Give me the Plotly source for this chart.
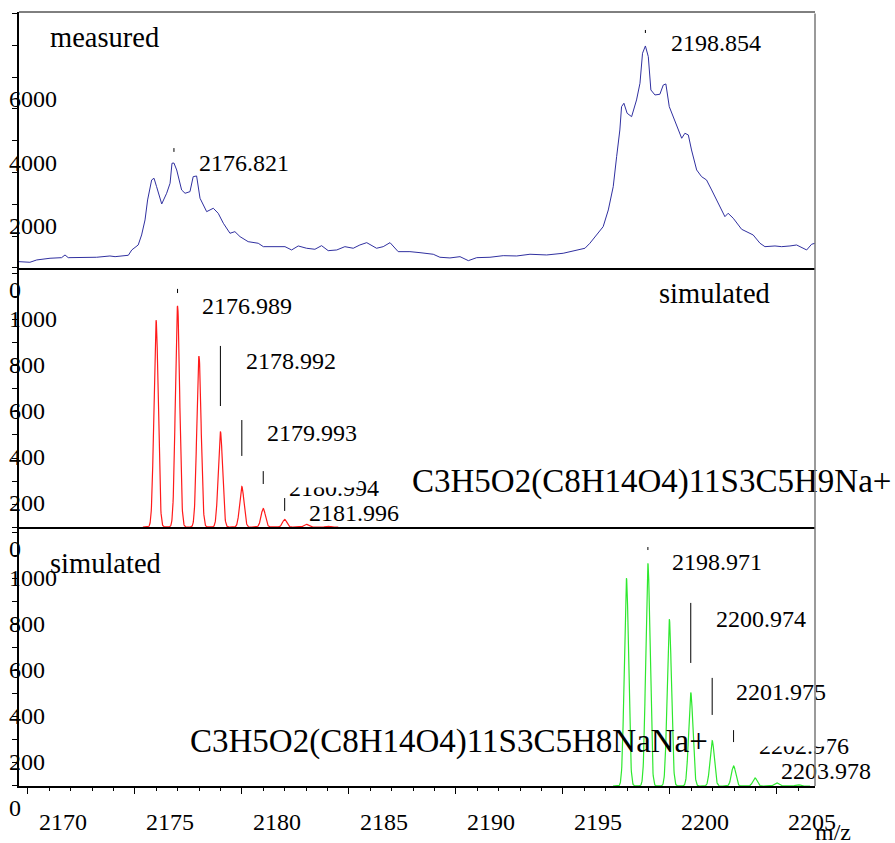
import numpy as np
import plotly.graph_objects as go

FONT = "Liberation Serif, Times New Roman, serif"

# ---------------- measured MALDI spectrum (m/z, counts) ----------------
meas_mz = [2169.58, 2170.09, 2170.41, 2171.03, 2171.57, 2171.73, 2171.88, 2172.43, 2173.21,
           2173.83, 2174.07, 2174.69, 2174.85, 2175.15, 2175.31, 2175.47, 2175.59, 2175.78,
           2175.89, 2176.01, 2176.25, 2176.48, 2176.64, 2176.73, 2176.821, 2176.95, 2177.18,
           2177.34, 2177.57, 2177.72, 2177.88, 2178.04, 2178.35, 2178.66, 2178.89, 2179.13,
           2179.44, 2179.67, 2179.91, 2180.29, 2180.76, 2181.00, 2181.31, 2181.78, 2182.01,
           2182.32, 2182.63, 2183.02, 2183.41, 2183.72, 2184.03, 2184.43, 2184.81, 2185.20,
           2185.51, 2185.83, 2186.29, 2186.60, 2186.92, 2187.30, 2187.85, 2188.32, 2188.94,
           2189.25, 2189.72, 2190.19, 2190.58, 2190.97, 2191.59, 2192.21, 2192.84, 2193.46,
           2194.24, 2195.01, 2195.48, 2196.03, 2196.26, 2196.57, 2196.88, 2197.12, 2197.35,
           2197.51, 2197.66, 2197.74, 2197.85, 2198.00, 2198.21, 2198.44, 2198.60, 2198.72,
           2198.854, 2198.99, 2199.11, 2199.30, 2199.53, 2199.69, 2199.81, 2199.97, 2200.15,
           2200.34, 2200.55, 2200.70, 2200.86, 2201.01, 2201.25, 2201.48, 2201.71, 2201.95,
           2202.18, 2202.42, 2202.57, 2202.72, 2202.96, 2203.35, 2203.58, 2203.89, 2204.21,
           2204.44, 2204.91, 2205.22, 2205.61, 2205.92, 2206.39, 2206.62, 2206.78]
meas_counts = [198, 179, 252, 305, 324, 409, 324, 324, 337,
               377, 355, 399, 566, 723, 1038, 1510, 2139, 2768,
               2821, 2557, 2013, 2349, 2664, 3293, 3300, 3082, 2453,
               2349, 2400, 2871, 2893, 2192, 1771, 1878, 1720, 1406,
               1091, 1142, 984, 827, 777, 670, 670, 692, 670,
               566, 692, 620, 588, 701, 544, 566, 670, 620,
               723, 796, 620, 670, 796, 513, 513, 481, 431,
               337, 315, 355, 230, 324, 337, 387, 377, 431,
               409, 462, 544, 620, 777, 1038, 1299, 1824, 2557,
               3500, 4340, 5073, 5180, 4865, 4758, 5284, 5809, 6752,
               6982, 6645, 5598, 5441, 5463, 5755, 5787, 5073, 4758,
               4444, 4079, 4236, 4183, 3711, 3082, 2871, 2768, 2453,
               2139, 1824, 1613, 1720, 1563, 1217, 1142, 1038, 777,
               670, 692, 670, 692, 723, 566, 745, 777]

# ---------------- simulated isotope distributions (centroids) ----------------
na_mz = [2175.986, 2176.989, 2177.990, 2178.992, 2179.993, 2180.994, 2181.996, 2182.997, 2183.999]
na_int = [899, 961, 743, 415, 176, 80, 33, 12, 4]
nana_mz = [2197.968, 2198.971, 2199.972, 2200.974, 2201.975, 2202.976, 2203.978, 2204.980, 2205.981]
nana_int = [903, 968, 725, 406, 197, 87, 35, 14, 6]

formula_na = "C3H5O2(C8H14O4)11S3C5H9Na+"
formula_nana = "C3H5O2(C8H14O4)11S3C5H8NaNa+"

# labelled peaks
meas_labels = [2176.821, 2198.854]
na_labels = [2176.989, 2178.992, 2179.993, 2180.994, 2181.996]
nana_labels = [2198.971, 2200.974, 2201.975, 2202.976, 2203.978]

# axis tick labels
x_tick_labels = [2170, 2175, 2180, 2185, 2190, 2195, 2200, 2205]
y_tick_labels_meas = [0, 2000, 4000, 6000]
y_tick_labels_sim = [0, 200, 400, 600, 800, 1000]

# label placement: (m/z offset of text, text height, leader bottom, leader top)
meas_label_place = [(1.22, 3300, 3650, 3770), (1.24, 7076, 7390, 7485)]
na_label_place = [(1.19, 961, 1017, 1035), (1.24, 722, 526, 787), (1.22, 404, 309, 465),
                  (1.25, 170, 187, 243), (1.18, 61, 70, 126)]
nana_label_place = [(1.17, 974, 1026, 1039), (1.23, 726, 535, 796), (1.16, 404, 309, 470),
                    (1.23, 174, 191, 243), (1.25, 65, None, None)]
boxed_label = 2  # this label sits on an opaque white box

X_RANGE = [2169.58, 2206.78]


def isotope_profile(centres, heights, lo, hi, sigma=0.1):
    """Gaussian-broadened stick spectrum."""
    grid = np.union1d(np.arange(lo, hi, 0.01), centres)
    y = np.zeros_like(grid)
    for c, h in zip(centres, heights):
        y += h * np.exp(-0.5 * ((grid - c) / sigma) ** 2)
    return grid, y


na_x, na_y = isotope_profile(na_mz, na_int, 2175.37, 2184.5)
nana_x, nana_y = isotope_profile(nana_mz, nana_int, 2197.34, 2206.55)

fig = go.Figure()
fig.add_trace(go.Scatter(x=meas_mz, y=meas_counts, mode="lines", xaxis="x", yaxis="y",
                         line=dict(color="#3030a0", width=1), hoverinfo="skip"))
fig.add_trace(go.Scatter(x=na_x, y=na_y, mode="lines", xaxis="x2", yaxis="y2",
                         line=dict(color="#ff1a1a", width=1.2), hoverinfo="skip"))
fig.add_trace(go.Scatter(x=nana_x, y=nana_y, mode="lines", xaxis="x3", yaxis="y3",
                         line=dict(color="#2ee82e", width=1.2), hoverinfo="skip"))

common_x = dict(range=X_RANGE, showgrid=False, zeroline=False, showline=True,
                linecolor="black", linewidth=2, showticklabels=False)
common_y = dict(showgrid=False, zeroline=False, showline=True, linecolor="black",
                linewidth=1.5, ticks="outside", ticklen=5, tickcolor="black",
                showticklabels=False)

fig.update_layout(
    width=895, height=843, autosize=False,
    margin=dict(l=19, r=80, t=12, b=57),
    paper_bgcolor="white", plot_bgcolor="white",
    showlegend=False,
    xaxis=dict(common_x, anchor="y", domain=[0, 1], ticks=""),
    xaxis2=dict(common_x, anchor="y2", domain=[0, 1], ticks=""),
    xaxis3=dict(common_x, anchor="y3", domain=[0, 1], ticks="outside", ticklen=6,
                tickcolor="black", tick0=2170, dtick=5,
                minor=dict(ticks="outside", ticklen=3, dtick=1, tickcolor="black")),
    yaxis=dict(common_y, anchor="x", domain=[0.6693, 1.0], range=[0, 8050], dtick=1000),
    yaxis2=dict(common_y, anchor="x2", domain=[0.3346, 0.6693], range=[0, 1126], dtick=100),
    yaxis3=dict(common_y, anchor="x3", domain=[0.0, 0.3346], range=[0, 1126], dtick=100),
)

shapes = [dict(type="line", xref="paper", yref="paper", x0=0, x1=1, y0=1, y1=1,
               line=dict(color="black", width=1))]
annotations = []


def txt(**kw):
    base = dict(showarrow=False, font=dict(family=FONT, size=24, color="black"))
    base.update(kw)
    annotations.append(base)


def add_peak_labels(labels, places, xr, yr, boxed=None):
    # drawn from the highest m/z down so that earlier labels sit on top
    for i in reversed(range(len(labels))):
        mz = labels[i]
        dx, ty, lo, hi = places[i]
        if lo is not None:
            shapes.append(dict(type="line", xref=xr, yref=yr, x0=mz, x1=mz, y0=lo, y1=hi,
                               line=dict(color="black", width=1)))
        if boxed is not None and i == boxed:
            txt(x=mz + dx, y=ty, xref=xr, yref=yr, text=f"{mz:.3f}", xanchor="left",
                yanchor="top", yshift=16, xshift=-3, bgcolor="white", height=66, valign="top")
        else:
            txt(x=mz + dx, y=ty, xref=xr, yref=yr, text=f"{mz:.3f}", xanchor="left",
                yanchor="middle", xshift=-3)


add_peak_labels(meas_labels, meas_label_place, "x", "y")
add_peak_labels(na_labels, na_label_place, "x2", "y2", boxed=boxed_label)
add_peak_labels(nana_labels, nana_label_place, "x3", "y3", boxed=boxed_label)

# y tick labels (printed slightly below their ticks)
for yr, vals in (("y", y_tick_labels_meas), ("y2", y_tick_labels_sim), ("y3", y_tick_labels_sim)):
    for v in vals:
        txt(x=0, xref="paper", y=v, yref=yr, text=str(v), xanchor="left", yanchor="middle",
            xshift=-12, yshift=-22)

# x tick labels
for v in x_tick_labels:
    txt(x=v, xref="x3", y=0, yref="y3", text=str(v), xanchor="center", yanchor="middle",
        xshift=35, yshift=-36)

txt(x=1, xref="paper", y=0, yref="paper", text="m/z", xanchor="left", yanchor="top",
    yshift=-31, xshift=-2)

# panel captions
txt(x=0.0364, xref="x domain", y=0.902, yref="y domain", text="measured",
    xanchor="left", yanchor="middle", font=dict(family=FONT, size=28.5, color="black"))
txt(x=0.8015, xref="x2 domain", y=0.903, yref="y2 domain", text="simulated",
    xanchor="left", yanchor="middle", font=dict(family=FONT, size=28.5, color="black"))
txt(x=0.0364, xref="x3 domain", y=0.861, yref="y3 domain", text="simulated",
    xanchor="left", yanchor="middle", font=dict(family=FONT, size=28.5, color="black"))
txt(x=0.491, xref="x2 domain", y=0.174, yref="y2 domain", text=formula_na,
    xanchor="left", yanchor="middle", font=dict(family=FONT, size=33, color="black"))
txt(x=0.2123, xref="x3 domain", y=0.17, yref="y3 domain", text=formula_nana,
    xanchor="left", yanchor="middle", font=dict(family=FONT, size=33, color="black"))

# right-hand frame edge, drawn over the texts
annotations.append(dict(xref="paper", yref="paper", x=1, y=0, ax=0, ay=-774, text="",
                        showarrow=True, arrowhead=0, arrowwidth=1.5, arrowcolor="#7a7a7a",
                        standoff=0, startstandoff=0))

fig.update_layout(shapes=shapes, annotations=annotations)
fig.write_html("out.html")
